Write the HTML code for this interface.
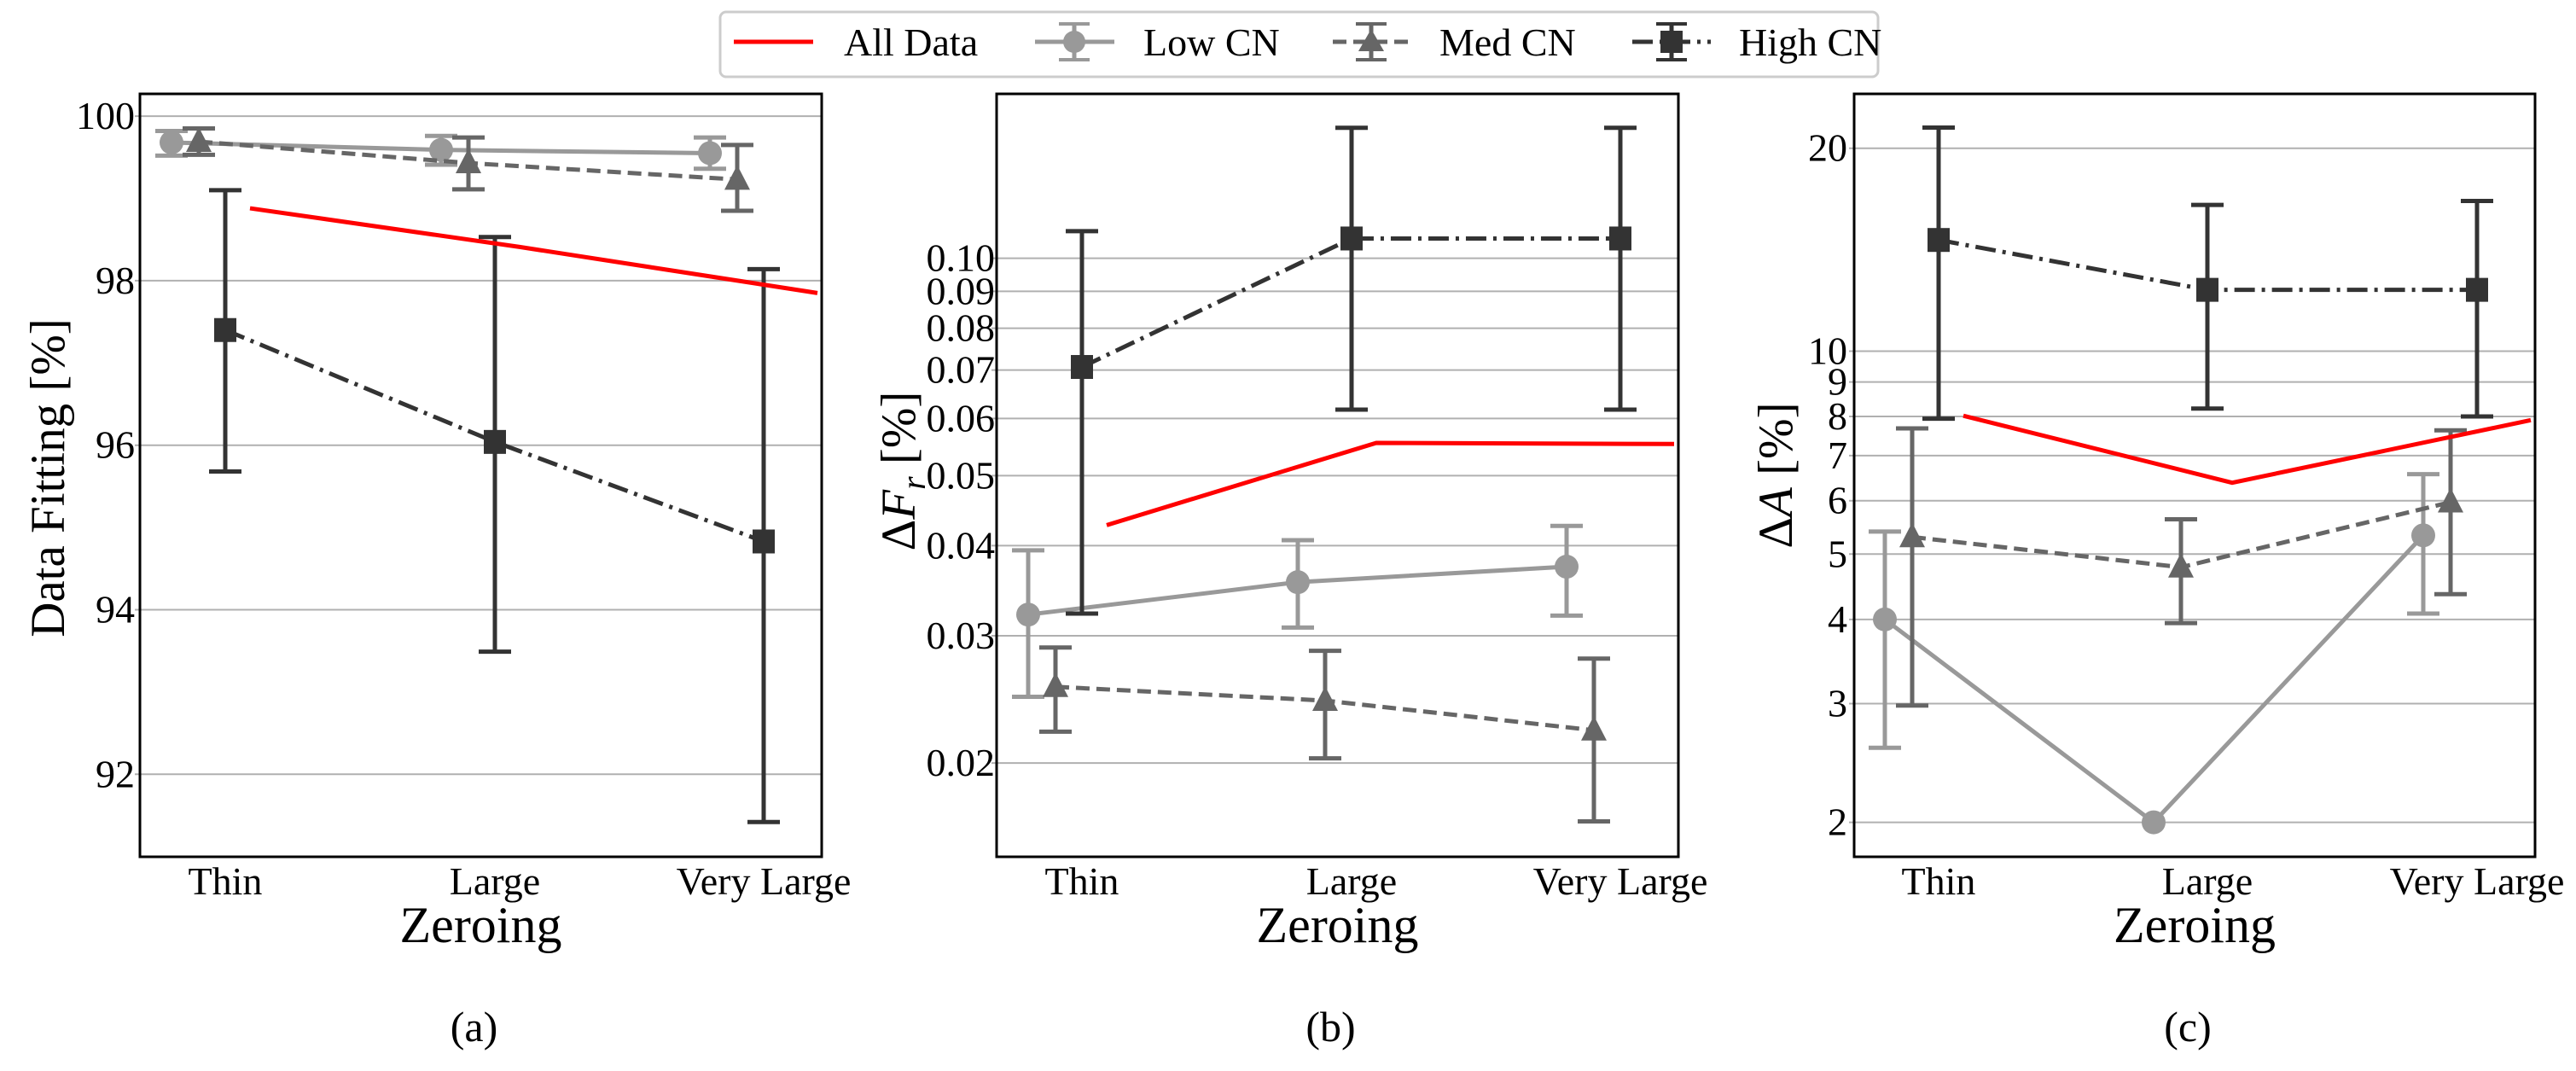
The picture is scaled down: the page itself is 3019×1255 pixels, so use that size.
<!DOCTYPE html>
<html><head><meta charset="utf-8"><style>
html,body{margin:0;padding:0;background:#fff;}
svg{display:block;font-family:"Liberation Serif",serif;}
</style></head><body>
<svg id="fig" width="3019" height="1255" viewBox="0 0 3019 1255" xmlns="http://www.w3.org/2000/svg">
<g>
<rect x="844" y="14" width="1357" height="76" rx="7" fill="#fff" stroke="#ccc" stroke-width="3"/>
<line x1="860" y1="49" x2="953" y2="49" stroke="#f00" stroke-width="5"/>
<text x="989" y="65" font-size="46">All Data</text>
<line x1="1213" y1="49" x2="1306" y2="49" stroke="#999" stroke-width="5"/>
<line x1="1259" y1="28" x2="1259" y2="70" stroke="#999" stroke-width="5"/>
<line x1="1241" y1="28" x2="1277" y2="28" stroke="#999" stroke-width="4"/><line x1="1241" y1="70" x2="1277" y2="70" stroke="#999" stroke-width="4"/>
<circle cx="1259" cy="49" r="13" fill="#999"/>
<text x="1340" y="65" font-size="46">Low CN</text>
<line x1="1562" y1="49" x2="1652" y2="49" stroke="#666" stroke-width="5" stroke-dasharray="16,8"/>
<line x1="1607" y1="28" x2="1607" y2="70" stroke="#666" stroke-width="5"/>
<line x1="1589" y1="28" x2="1625" y2="28" stroke="#666" stroke-width="4"/><line x1="1589" y1="70" x2="1625" y2="70" stroke="#666" stroke-width="4"/>
<polygon points="1607,34 1622,60 1592,60" fill="#666"/>
<text x="1687" y="65" font-size="46">Med CN</text>
<line x1="1913" y1="49" x2="2005" y2="49" stroke="#333" stroke-width="5" stroke-dasharray="24,8,4,8"/>
<line x1="1959" y1="28" x2="1959" y2="70" stroke="#333" stroke-width="5"/>
<line x1="1941" y1="28" x2="1977" y2="28" stroke="#333" stroke-width="4"/><line x1="1941" y1="70" x2="1977" y2="70" stroke="#333" stroke-width="4"/>
<rect x="1946" y="36" width="26" height="26" fill="#333"/>
<text x="2038" y="65" font-size="46">High CN</text>
</g>
</svg>
<script>
const categories = ["Thin","Large","Very Large"];
// Panel a: Data Fitting [%]
const aAll = [98.88, 98.41, 97.85];
const aLow = [99.68, 99.59, 99.55];
const aLowErrHi = [99.82, 99.76, 99.74];
const aLowErrLo = [99.52, 99.41, 99.36];
const aMed = [99.69, 99.43, 99.23];
const aMedErrHi = [99.85, 99.74, 99.65];
const aMedErrLo = [99.53, 99.11, 98.85];
const aHigh = [97.40, 96.04, 94.83];
const aHighErrHi = [99.10, 98.53, 98.14];
const aHighErrLo = [95.68, 93.49, 91.42];
const aTicks = [92, 94, 96, 98, 100];
// Panel b: ΔF_r [%]
const bAll = [0.0427, 0.0555, 0.0553];
const bLow = [0.0321, 0.0356, 0.0374];
const bLowErrHi = [0.0394, 0.0407, 0.0426];
const bLowErrLo = [0.0247, 0.0308, 0.0320];
const bMed = [0.0255, 0.0244, 0.0222];
const bMedErrHi = [0.0289, 0.0286, 0.0279];
const bMedErrLo = [0.0221, 0.0203, 0.0166];
const bHigh = [0.0707, 0.1065, 0.1065];
const bHighErrHi = [0.109, 0.1516, 0.1516];
const bHighErrLo = [0.0322, 0.0617, 0.0617];
const bTicks = [0.02, 0.03, 0.04, 0.05, 0.06, 0.07, 0.08, 0.09, 0.10];
const bTickLabels = ["0.02","0.03","0.04","0.05","0.06","0.07","0.08","0.09","0.10"];
// Panel c: ΔA [%]
const cAll = [8.02, 6.38, 7.9];
const cLow = [4.0, 2.0, 5.33];
const cLowErrHi = [5.40, 2.0, 6.57];
const cLowErrLo = [2.58, 2.0, 4.08];
const cMed = [5.30, 4.78, 5.97];
const cMedErrHi = [7.68, 5.63, 7.63];
const cMedErrLo = [2.98, 3.95, 4.36];
const cHigh = [14.62, 12.33, 12.33];
const cHighErrHi = [21.46, 16.48, 16.7];
const cHighErrLo = [7.94, 8.22, 8.0];
const cTicks = [2, 3, 4, 5, 6, 7, 8, 9, 10, 20];

const NS = "http://www.w3.org/2000/svg";
const svg = document.getElementById("fig");
function mk(tag, attrs, parent){const e=document.createElementNS(NS,tag);for(const k in attrs)e.setAttribute(k,attrs[k]);(parent||svg).appendChild(e);return e;}

function panel(cfg){
  const g = mk("g",{});
  
  
  const {x0,x1,y0,y1,catX,yf} = cfg;
  const xf = i => catX[i];
  cfg.ticks.forEach((t,i)=>{
    const y=yf(t);
    const l=mk("line",{x1:x0-6,x2:x1,y1:y,y2:y,stroke:"#b0b0b0","stroke-width":2},g);
    
    
    const tx=mk("text",{x:cfg.tickX,y:y+15,"font-size":46,"text-anchor":"end"},g);
    tx.textContent = cfg.tickLabels ? cfg.tickLabels[i] : String(t);
    
    
  });
  categories.forEach((c,i)=>{
    const t=mk("text",{x:xf(i),y:1048,"font-size":46,"text-anchor":"middle"},g);
    t.textContent=c;
    
    
  });
  const series = [
    {v:cfg.low,hi:cfg.lowHi,lo:cfg.lowLo,col:"#999",off:-63,dash:"",m:"circle",n:"low-cn"},
    {v:cfg.med,hi:cfg.medHi,lo:cfg.medLo,col:"#666",off:-31,dash:"16,8",m:"tri",n:"med-cn"},
    {v:cfg.high,hi:cfg.highHi,lo:cfg.highLo,col:"#333",off:0,dash:"24,8,4,8",m:"sq",n:"high-cn"}
  ];
  series.forEach(s=>{
    const pts=s.v.map((v,i)=>(xf(i)+s.off)+","+yf(v)).join(" ");
    const pl=mk("polyline",{points:pts,fill:"none",stroke:s.col,"stroke-width":5,"stroke-dasharray":s.dash},g);
    
    
    s.v.forEach((v,i)=>{
      const x=xf(i)+s.off, yh=yf(s.hi[i]), yl=yf(s.lo[i]);
      if(Math.abs(yh-yl)>1){
        const eb=mk("path",{d:`M${x},${yh}V${yl}M${x-19},${yh}H${x+19}M${x-19},${yl}H${x+19}`,stroke:s.col,"stroke-width":5,fill:"none"},g);
        
        
      }
      const y=yf(v); let m;
      if(s.m==="circle") m=mk("circle",{cx:x,cy:y,r:14,fill:s.col},g);
      else if(s.m==="tri") m=mk("polygon",{points:`${x},${y-17} ${x+15},${y+12} ${x-15},${y+12}`,fill:s.col},g);
      else m=mk("rect",{x:x-13,y:y-14,width:26,height:28,fill:s.col},g);
      
      
    });
  });
  const rp=cfg.all.map((v,i)=>(xf(i)+29+(i===2?34:0))+","+yf(v)).join(" ");
  const red=mk("polyline",{points:rp,fill:"none",stroke:"#f00","stroke-width":5},g);
  
  
  const fr=mk("rect",{x:x0,y:y0,width:x1-x0,height:y1-y0,fill:"none",stroke:"#000","stroke-width":3},g);
  
  
  const xl=mk("text",{x:(x0+x1)/2,y:1104,"font-size":60,"text-anchor":"middle"},g);
  xl.textContent="Zeroing";
  
  
  const yl=mk("text",{x:0,y:0,"font-size":57,"text-anchor":"middle",transform:`translate(${cfg.ytX},${cfg.ytY}) rotate(-90)`},g);
  yl.innerHTML=cfg.ytitle;
  
  
  const cap=mk("text",{x:(x0+x1)/2-8,y:1220,"font-size":50,"text-anchor":"middle"},g);
  cap.textContent=cfg.caption;
  
  
}

panel({name:"panel-a",x0:164,x1:963,y0:110,y1:1004,catX:[264,580,895],
  yf:v=>136.1+(100-v)*96.4,ticks:aTicks,tickX:158,
  all:aAll,low:aLow,lowHi:aLowErrHi,lowLo:aLowErrLo,med:aMed,medHi:aMedErrHi,medLo:aMedErrLo,
  high:aHigh,highHi:aHighErrHi,highLo:aHighErrLo,ytitle:"Data Fitting [%]",ytX:75,ytY:560,caption:"(a)"});
panel({name:"panel-b",x0:1168,x1:1967,y0:110,y1:1004,catX:[1268,1584,1899],
  yf:v=>302.6-Math.log10(v/0.1)*846.2,ticks:bTicks,tickLabels:bTickLabels,tickX:1166,
  all:bAll,low:bLow,lowHi:bLowErrHi,lowLo:bLowErrLo,med:bMed,medHi:bMedErrHi,medLo:bMedErrLo,
  high:bHigh,highHi:bHighErrHi,highLo:bHighErrLo,ytitle:'Δ<tspan font-style="italic">F</tspan><tspan font-style="italic" font-size="40" dy="12">r</tspan><tspan dy="-12"> [%]</tspan>',ytX:1072,ytY:552,caption:"(b)"});
panel({name:"panel-c",x0:2173,x1:2971,y0:110,y1:1004,catX:[2272,2587,2903],
  yf:v=>963.6-Math.log10(v/2)*789.9,ticks:cTicks,tickX:2165,
  all:cAll,low:cLow,lowHi:cLowErrHi,lowLo:cLowErrLo,med:cMed,medHi:cMedErrHi,medLo:cMedErrLo,
  high:cHigh,highHi:cHighErrHi,highLo:cHighErrLo,ytitle:'Δ<tspan font-style="italic">A</tspan> [%]',ytX:2100,ytY:557,caption:"(c)"});
</script>
</body></html>
